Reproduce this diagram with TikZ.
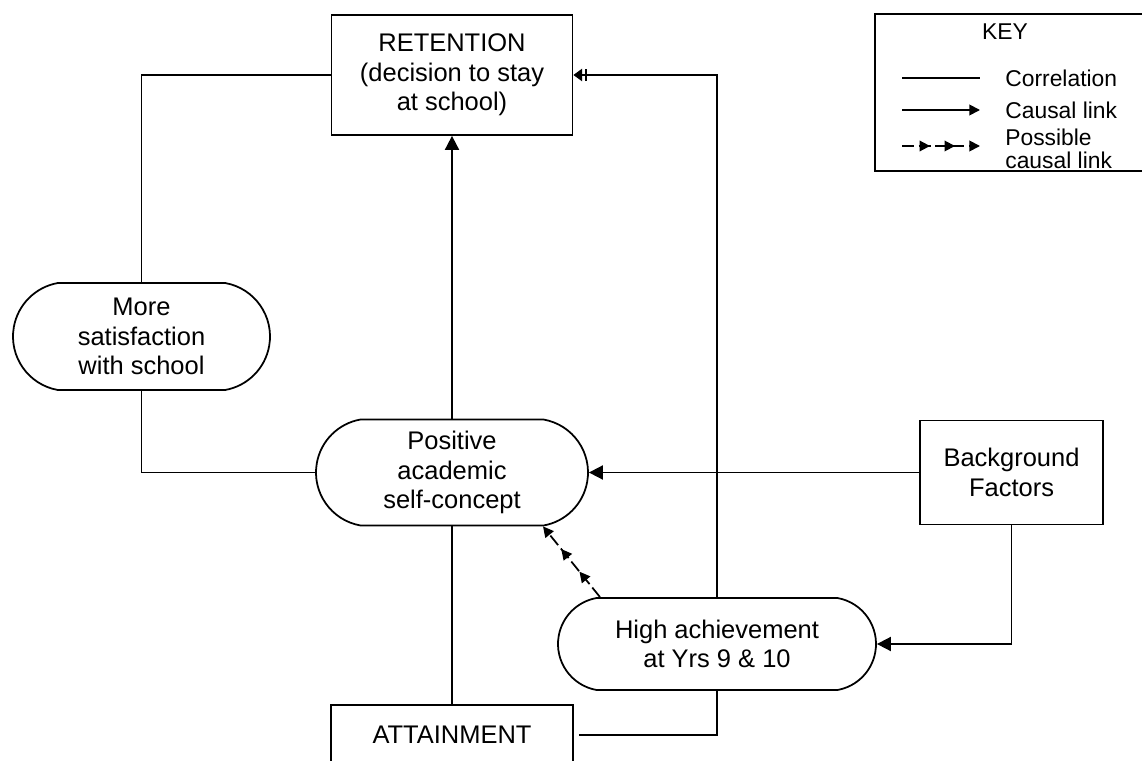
\documentclass[tikz,border=0pt]{standalone}
\usepackage{fontspec}
\setmainfont{Liberation Sans}
\usetikzlibrary{shapes.misc, arrows.meta, positioning, calc, decorations.markings}
\tikzset{
    box_plain/.style={
        rectangle, draw=black, line width=1pt,
        align=center, font=\fontsize{14.5}{16.8}\selectfont, inner sep=0pt
    },
    box_round/.style={
        rounded rectangle, rounded rectangle arc length=160, draw=black, line width=1pt,
        align=center, font=\fontsize{14.5}{16.8}\selectfont, inner sep=0pt
    },
    corr_line/.style={
        draw=black, line width=1pt
    },
    cause_arrow/.style={
        -{Triangle[length=8pt, width=8pt]}, draw=black, line width=1pt
    },
    ret_arrow/.style={
        -{Bar[width=7pt, sep=1.5pt] Triangle[length=5pt, width=7pt]}, draw=black, line width=1pt
    },
    maybe_arrow/.style={
        draw=black, line width=1pt, dash pattern=on 7pt off 2.5pt,
        -{Triangle[length=6pt, width=6pt]},
        postaction={decorate},
        decoration={markings,
            mark=at position 0.36 with {\arrow{Triangle[length=6pt, width=6pt]}},
            mark=at position 0.68 with {\arrow{Triangle[length=6pt, width=6pt]}}}
    },
    key_lbl/.style={
        font=\fontsize{13}{13.2}\selectfont, align=left, anchor=west, inner sep=0pt
    }
}

\begin{document}
\begin{tikzpicture}
    \useasboundingbox (0,0) rectangle (22.84,-15.22);

    \node[box_plain, minimum width=4.82cm, minimum height=2.40cm] (ret) at (9.04,-1.50) {RETENTION\\(decision to stay\\at school)};
    \node[box_round, minimum width=5.14cm, minimum height=2.14cm] (sat) at (2.83,-6.73) {More\\satisfaction\\with school};
    \node[box_round, minimum width=5.44cm, minimum height=2.12cm] (pos) at (9.04,-9.45) {Positive\\academic\\self-concept};
    \node[box_plain, minimum width=3.66cm, minimum height=2.08cm] (bg) at (20.23,-9.45) {Background\\Factors};
    \node[box_round, minimum width=6.36cm, minimum height=1.84cm] (high) at (14.34,-12.88) {High achievement\\at Yrs 9 \& 10};
    \node[box_plain, minimum width=4.84cm, minimum height=1.20cm] (att) at (9.04,-14.70) {ATTAINMENT};

    \draw[corr_line] (ret.west) -| (sat.north);
    \draw[corr_line] (sat.south) |- (pos.west);
    \draw[cause_arrow] (pos.north) -- (ret.south);
    \draw[corr_line] (att.north) -- (pos.south);
    \draw[corr_line, shorten <=0.1cm] (att.east) -| (high.south);
    \draw[ret_arrow] (high.north) |- (ret.east);
    \draw[cause_arrow] (bg.west) -- (pos.east);
    \draw[cause_arrow] (bg.south) |- (high.east);
    \draw[maybe_arrow] ([xshift=-2.34cm]high.north) -- ([xshift=1.82cm]pos.south);

    % key
    \node[box_plain, minimum width=5.50cm, minimum height=3.14cm] (key) at (20.25,-1.85) {};
    \node[key_lbl, anchor=center] (keyhead) at (20.10,-0.64) {KEY};
    \coordinate (k1a) at (18.04,-1.56);
    \coordinate (k1b) at (19.60,-1.56);
    \coordinate (k2a) at (18.04,-2.20);
    \coordinate (k2b) at (19.60,-2.20);
    \coordinate (k3a) at (18.04,-2.92);
    \coordinate (k3b) at (19.60,-2.92);
    \node[key_lbl] (kcorr) at (20.10,-1.56) {Correlation};
    \node[key_lbl] (kcause) at (20.10,-2.20) {Causal link};
    \node[key_lbl] (kmaybe) at (20.10,-2.98) {Possible\\causal link};
    \draw[corr_line] (k1a) -- (k1b);
    \draw[cause_arrow, -{Triangle[length=6pt, width=6pt]}] (k2a) -- (k2b);
    \draw[maybe_arrow] (k3a) -- (k3b);
\end{tikzpicture}
\end{document}
